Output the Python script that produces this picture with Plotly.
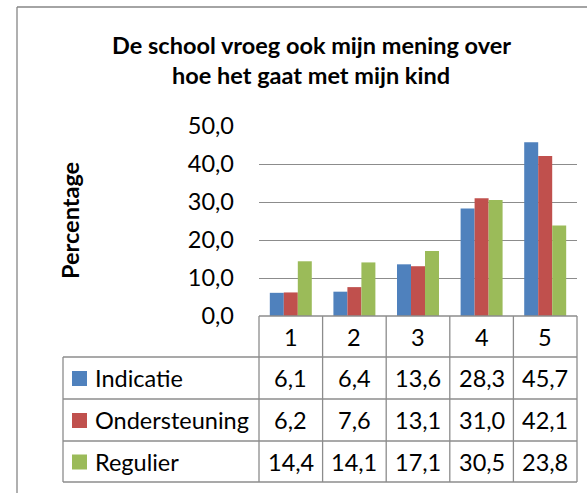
import plotly.graph_objects as go

categories = ["1", "2", "3", "4", "5"]
series_names = ["Indicatie", "Ondersteuning", "Regulier"]
indicatie = [6.1, 6.4, 13.6, 28.3, 45.7]
ondersteuning = [6.2, 7.6, 13.1, 31.0, 42.1]
regulier = [14.4, 14.1, 17.1, 30.5, 23.8]
series_values = [indicatie, ondersteuning, regulier]
colors = ["#4F81BD", "#C0504D", "#9BBB59"]
y_ticks = [0, 10, 20, 30, 40, 50]
title_lines = ["De school vroeg ook mijn mening over", "hoe het gaat met mijn kind"]

W, H = 587, 493
FONT = "Lato"
FS = 23.5
GRID = "#8C8C8C"

def px(x):
    return x / W

def py(y):
    return 1 - y / H

plot_l, plot_r = 259, 577
plot_t, plot_b = 126, 316
row_edges = [316, 357, 399, 441, 482]
table_l = 63

fig = go.Figure()
for name, vals, col in zip(series_names, series_values, colors):
    fig.add_trace(go.Bar(x=categories, y=vals, name=name, marker=dict(color=col, line=dict(width=0)),
                         showlegend=False))

shapes = []
ann = []
ncat = len(categories)
colw = (plot_r - plot_l) / ncat
line = dict(color=GRID, width=1.3)

shapes.append(dict(type="line", xref="paper", yref="paper", x0=px(plot_l), x1=px(plot_r),
                   y0=py(row_edges[0]), y1=py(row_edges[0]), line=line))
for ry in row_edges[1:]:
    shapes.append(dict(type="line", xref="paper", yref="paper", x0=px(table_l), x1=px(plot_r),
                       y0=py(ry), y1=py(ry), line=line))
for i in range(ncat + 1):
    xx = plot_l + i * colw
    shapes.append(dict(type="line", xref="paper", yref="paper", x0=px(xx), x1=px(xx),
                       y0=py(row_edges[0]), y1=py(row_edges[-1]), line=line))
shapes.append(dict(type="line", xref="paper", yref="paper", x0=px(table_l), x1=px(table_l),
                   y0=py(row_edges[1]), y1=py(row_edges[-1]), line=line))
shapes.append(dict(type="line", xref="paper", yref="paper", x0=px(17), x1=px(17), y0=py(7), y1=py(H + 5),
                   line=dict(color="#868686", width=1.3)))
shapes.append(dict(type="line", xref="paper", yref="paper", x0=px(17), x1=px(W + 5), y0=py(7), y1=py(7),
                   line=dict(color="#868686", width=1.3)))

for i, c in enumerate(categories):
    ann.append(dict(x=px(plot_l + (i + 0.5) * colw), y=py((row_edges[0] + row_edges[1]) / 2),
                    xref="paper", yref="paper", text=c, showarrow=False, xanchor="center", yanchor="middle",
                    font=dict(family=FONT, size=FS, color="black")))
for r, (name, vals, col) in enumerate(zip(series_names, series_values, colors)):
    yc = (row_edges[r + 1] + row_edges[r + 2]) / 2
    shapes.append(dict(type="rect", xref="paper", yref="paper", x0=px(72), x1=px(87),
                       y0=py(yc - 7), y1=py(yc + 8), fillcolor=col, line=dict(width=0)))
    ann.append(dict(x=px(93), y=py(yc), xref="paper", yref="paper", text=name, showarrow=False,
                    xanchor="left", yanchor="middle", font=dict(family=FONT, size=FS, color="black")))
    for i, v in enumerate(vals):
        ann.append(dict(x=px(plot_l + (i + 0.5) * colw), y=py(yc), xref="paper", yref="paper",
                        text=f"{v:.1f}".replace(".", ","), showarrow=False, xanchor="center", yanchor="middle",
                        font=dict(family=FONT, size=FS, color="black")))

for t, yy in zip(title_lines, [45, 75]):
    ann.append(dict(x=px(311), y=py(yy), xref="paper", yref="paper", text=f"<b>{t}</b>",
                    showarrow=False, xanchor="center", yanchor="middle",
                    font=dict(family=FONT, size=23.5, color="black")))
ann.append(dict(x=px(70), y=py(221), xref="paper", yref="paper", text="<b>Percentage</b>",
                textangle=-90, showarrow=False, xanchor="center", yanchor="middle",
                font=dict(family=FONT, size=23.5, color="black")))

fig.update_layout(
    width=W, height=H, margin=dict(l=0, r=0, t=0, b=0, autoexpand=False),
    paper_bgcolor="white", plot_bgcolor="white",
    separators=",.",
    barmode="group", bargap=0.34, bargroupgap=0,
    shapes=shapes, annotations=ann,
    xaxis=dict(domain=[px(plot_l), px(plot_r)], showticklabels=False, ticks="", showgrid=False,
               showline=False, zeroline=False, fixedrange=True, automargin=False),
    yaxis=dict(domain=[py(plot_b), py(plot_t)], range=[0, 50], tickvals=y_ticks, tickformat=".1f",
               showgrid=True, gridcolor=GRID, gridwidth=1.3, zeroline=False, automargin=False,
               showline=False, ticks="", ticklabelstandoff=24, fixedrange=True,
               tickfont=dict(family=FONT, size=FS, color="black")),
)

fig.write_html("out.html", config={"displayModeBar": False},
               post_script="document.body.style.margin='0';document.body.style.overflow='hidden';")
